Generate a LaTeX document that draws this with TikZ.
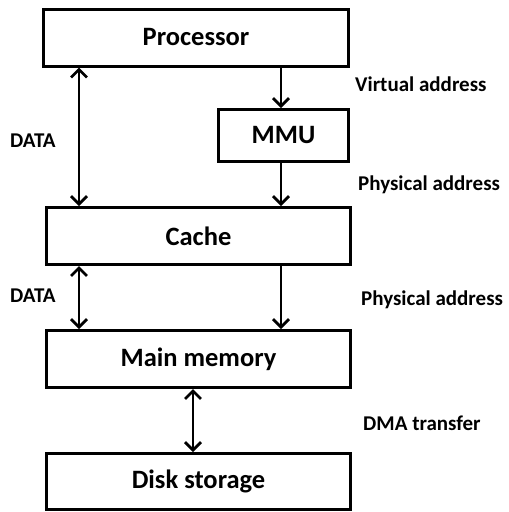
\documentclass[tikz,border=0pt]{standalone}
\usepackage{fontspec}
\setmainfont{Carlito}
\usetikzlibrary{arrows.meta}
\begin{document}
\begin{tikzpicture}[x=1pt,y=-1pt,
  blk/.style={draw,line width=3pt,inner sep=0pt,minimum height=57pt,font=\fontsize{26.5}{30}\selectfont\bfseries},
  lbl/.style={anchor=base west,inner sep=0pt,font=\fontsize{21}{24}\selectfont\bfseries},
  link/.style={line width=2.8pt,-{Straight Barb[length=8pt,width=16pt,line width=2.8pt]}},
  both/.style={line width=2.8pt,{Straight Barb[length=8pt,width=16pt,line width=2.8pt]}-{Straight Barb[length=8pt,width=16pt,line width=2.8pt]}}]
\useasboundingbox (0,0) rectangle (509,512);
% memory hierarchy blocks
\node[blk,minimum width=305pt] (proc) at (196,37.5) {Processor};
\node[blk,minimum width=130pt,minimum height=52pt] (mmu) at (283.5,135.5) {MMU};
\node[blk,minimum width=304pt] (cache) at (198.5,236) {Cache};
\node[blk,minimum width=304pt] (mem) at (198.5,359) {Main memory};
\node[blk,minimum width=304pt,minimum height=56pt] (disk) at (198.5,481.5) {Disk storage};
% columns of the links
\coordinate (data) at (79,0); \coordinate (addr) at (281,0); \coordinate (dma) at (193,0);
% links
\draw[both] (data |- proc.south) -- (data |- cache.north);
\draw[link] (addr |- proc.south) -- (addr |- mmu.north);
\draw[link] (addr |- mmu.south) -- (addr |- cache.north);
\draw[both] (data |- cache.south) -- (data |- mem.north);
\draw[link] (addr |- cache.south) -- (addr |- mem.north);
\draw[both] (dma |- mem.south) -- (dma |- disk.north);
% side labels
\node[lbl] (lva) at (355,91) {Virtual address};
\node[lbl] (ld1) at (10,147) {DATA};
\node[lbl] (lpa1) at (358,190) {Physical address};
\node[lbl] (ld2) at (10,302) {DATA};
\node[lbl] (lpa2) at (361,305) {Physical address};
\node[lbl] (ldma) at (363,430) {DMA transfer};
\end{tikzpicture}
\end{document}
